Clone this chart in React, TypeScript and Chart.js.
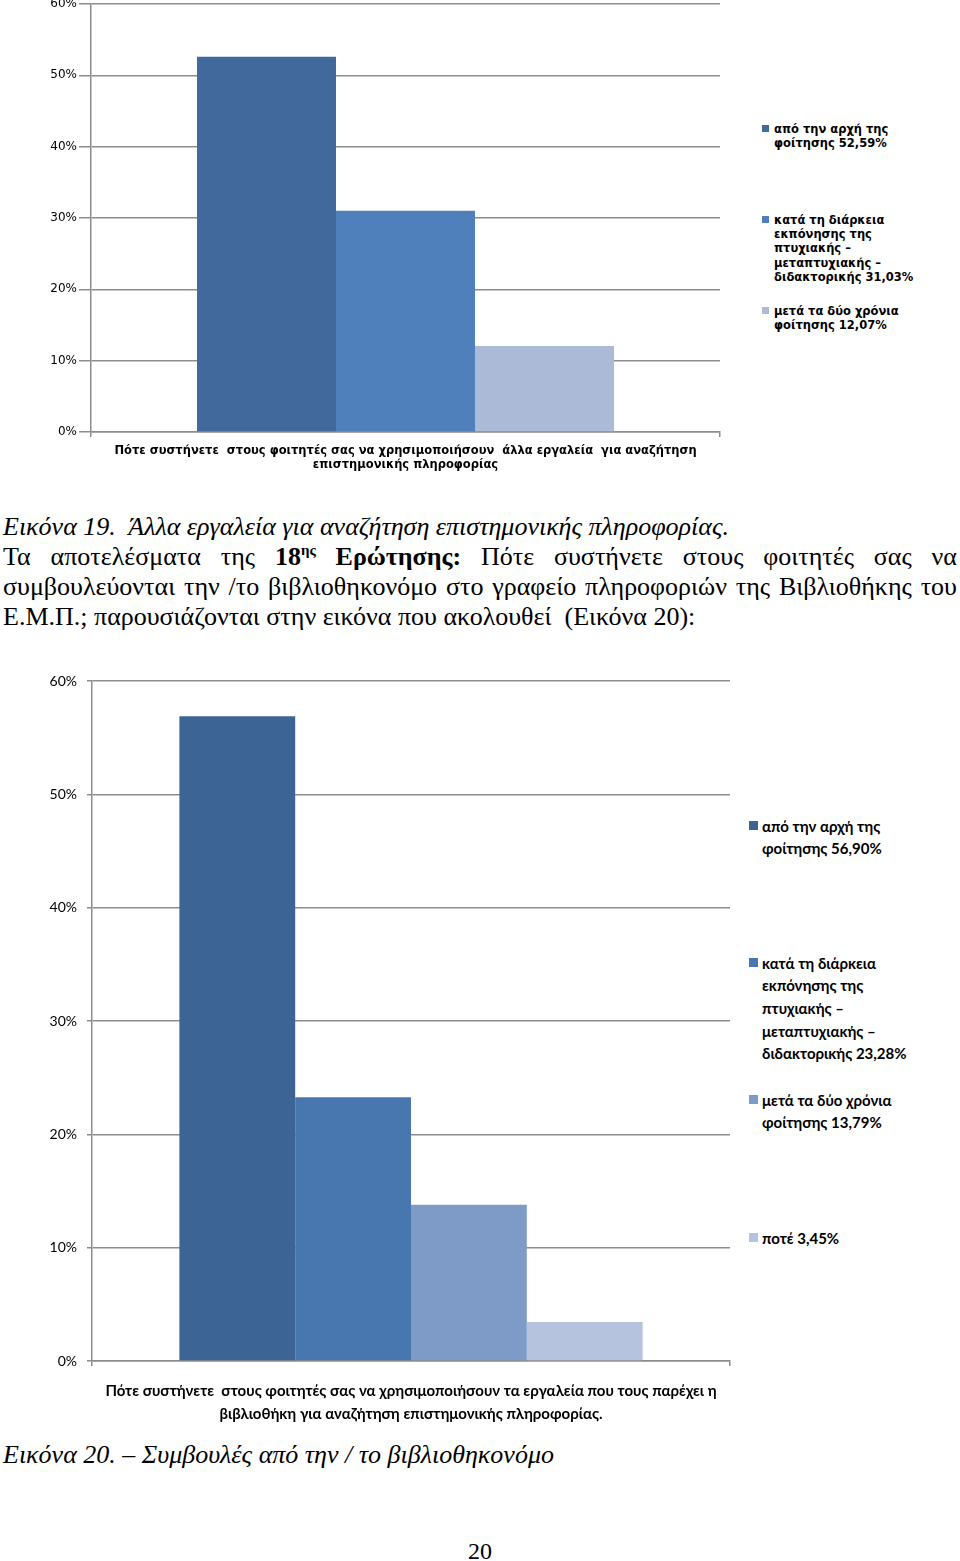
import React, { useEffect, useRef } from "react";
import { Chart, registerables } from "chart.js";

Chart.register(...registerables);

// ---------- Data: chart 1 (Εικόνα 19) ----------
const chart1Category = [
  "Πότε συστήνετε  στους φοιτητές σας να χρησιμοποιήσουν  άλλα εργαλεία  για αναζήτηση",
  "επιστημονικής πληροφορίας",
];
const chart1SeriesLines = [
  ["από την αρχή της", "φοίτησης"],
  ["κατά τη διάρκεια", "εκπόνησης της", "πτυχιακής –", "μεταπτυχιακής –", "διδακτορικής"],
  ["μετά τα δύο χρόνια", "φοίτησης"],
];
const chart1Values = [52.59, 31.03, 12.07];
const chart1Colors = ["#41699c", "#4f80bc", "#abbad7"];

// ---------- Data: chart 2 (Εικόνα 20) ----------
const chart2Category = [
  "Πότε συστήνετε  στους φοιτητές σας να χρησιμοποιήσουν τα εργαλεία που τους παρέχει η",
  "βιβλιοθήκη για αναζήτηση επιστημονικής πληροφορίας.",
];
const chart2SeriesLines = [
  ["από την αρχή της", "φοίτησης"],
  ["κατά τη διάρκεια", "εκπόνησης της", "πτυχιακής –", "μεταπτυχιακής –", "διδακτορικής"],
  ["μετά τα δύο χρόνια", "φοίτησης"],
  ["ποτέ "],
];
const chart2Values = [56.9, 23.28, 13.79, 3.45];
const chart2Colors = ["#3c6494", "#4877b0", "#7e9bc8", "#b5c3de"];

const yTickMax = 60;
const yTickStep = 10;

const fmt = (v: number) => v.toFixed(2).replace(".", ",") + "%";

type BarProps = {
  width: number;
  height: number;
  category: string[];
  seriesLines: string[][];
  values: number[];
  colors: string[];
  categoryPercentage: number;
  padTop: number;
  padRight: number;
  yWidth: number;
  xHeight: number;
  tickFont: any;
  catFont: any;
  xPad: number;
  yTickLen: number;
  yPad: number;
};

function BarChart(p: BarProps) {
  const ref = useRef<HTMLCanvasElement | null>(null);
  useEffect(() => {
    if (!ref.current) return;
    const chart = new Chart(ref.current, {
      type: "bar",
      data: {
        labels: [p.category],
        datasets: p.values.map((v, i) => ({
          label: p.seriesLines[i].join(" "),
          data: [v],
          backgroundColor: p.colors[i],
          borderWidth: 0,
          barPercentage: 1,
          categoryPercentage: p.categoryPercentage,
        })),
      },
      options: {
        animation: false,
        responsive: false,
        maintainAspectRatio: false,
        devicePixelRatio: 1,
        layout: { padding: { top: p.padTop, right: p.padRight, left: 0, bottom: 0 } },
        plugins: { legend: { display: false }, tooltip: { enabled: false } },
        scales: {
          x: {
            grid: { display: true, drawOnChartArea: false, tickLength: 5, color: "#8c8c8c", lineWidth: 1.5, offset: true },
            border: { color: "#8c8c8c", width: 1.5 },
            ticks: { font: p.catFont, color: "#000", padding: p.xPad, maxRotation: 0, autoSkip: false },
            afterFit: (s: any) => {
              s.height = p.xHeight;
              s.paddingLeft = 0;
              s.paddingRight = 0;
            },
          },
          y: {
            min: 0,
            max: yTickMax,
            ticks: {
              stepSize: yTickStep,
              callback: (v: any) => v + "%",
              font: p.tickFont,
              color: "#000",
              padding: p.yPad,
            },
            grid: { color: "#8c8c8c", lineWidth: 1.5, tickLength: p.yTickLen },
            border: { color: "#8c8c8c", width: 1.5 },
            afterFit: (s: any) => {
              s.width = p.yWidth;
              s.paddingTop = 0;
              s.paddingBottom = 0;
            },
          },
        },
      },
    } as any);
    return () => chart.destroy();
  }, []);
  return <canvas ref={ref} width={p.width} height={p.height} style={{ width: p.width, height: p.height, display: "block" }} />;
}

function Legend(props: {
  left: number;
  seriesLines: string[][];
  values: number[];
  colors: string[];
  tops: number[];
  lineHeight: number;
  font: string;
  size: number;
  square: number;
  gap: number;
}) {
  return (
    <>
      {props.seriesLines.map((lines, i) => {
        const all = lines.slice();
        all[all.length - 1] = all[all.length - 1] + " " + fmt(props.values[i]);
        return (
          <div
            key={i}
            style={{
              position: "absolute",
              left: props.left,
              top: props.tops[i] - props.lineHeight / 2,
              fontFamily: props.font,
              fontWeight: "bold",
              fontSize: props.size,
              lineHeight: props.lineHeight + "px",
              color: "#000",
              whiteSpace: "nowrap",
            }}
          >
            <span
              style={{
                position: "absolute",
                left: 0,
                top: (props.lineHeight - props.square) / 2,
                width: props.square,
                height: props.square,
                background: props.colors[i],
              }}
            />
            <div style={{ marginLeft: props.square + props.gap }}>
              {all.map((l, j) => (
                <div key={j}>{l}</div>
              ))}
            </div>
          </div>
        );
      })}
    </>
  );
}

const serif = "'Liberation Serif', 'Times New Roman', serif";

export default function App() {
  const lineStyle = (top: number): React.CSSProperties => ({
    position: "absolute",
    left: 3,
    top: top - 15,
    fontFamily: serif,
    fontSize: 26,
    lineHeight: "30px",
    color: "#000",
    whiteSpace: "nowrap",
  });
  return (
    <div style={{ position: "absolute", left: 0, top: 0, width: 960, height: 1561, background: "#fff", overflow: "hidden" }}>
      <div style={{ position: "absolute", left: 0, top: 0 }}>
        <BarChart
          width={740}
          height={480}
          category={chart1Category}
          seriesLines={chart1SeriesLines}
          values={chart1Values}
          colors={chart1Colors}
          categoryPercentage={0.663}
          padTop={4}
          padRight={20}
          yWidth={91}
          xHeight={48}
          tickFont={{ family: "'DejaVu Sans', sans-serif", size: 12 }}
          catFont={{ family: "'DejaVu Sans', sans-serif", size: 11.5, weight: "bold", lineHeight: 1.22 }}
          xPad={7}
          yTickLen={12}
          yPad={2}
        />
      </div>
      <Legend
        left={762}
        seriesLines={chart1SeriesLines}
        values={chart1Values}
        colors={chart1Colors}
        tops={[129, 220, 311]}
        lineHeight={14.2}
        font="'DejaVu Sans', sans-serif"
        size={11.5}
        square={7}
        gap={5}
      />

      <div style={{ ...lineStyle(527), fontStyle: "italic" }}>Εικόνα 19.&nbsp; Άλλα εργαλεία για αναζήτηση επιστημονικής πληροφορίας.</div>
      <div style={{ ...lineStyle(557), width: 954, textAlign: "justify", textAlignLast: "justify" as any, whiteSpace: "normal" }}>
        Τα αποτελέσματα της <b>18<sup style={{ fontSize: 15, lineHeight: 0 }}>ης</sup> Ερώτησης:</b> Πότε συστήνετε στους φοιτητές σας να
      </div>
      <div style={{ ...lineStyle(587), width: 954, textAlign: "justify", textAlignLast: "justify" as any, whiteSpace: "normal" }}>
        συμβουλεύονται την /το βιβλιοθηκονόμο στο γραφείο πληροφοριών της Βιβλιοθήκης του
      </div>
      <div style={lineStyle(617)}>Ε.Μ.Π.; παρουσιάζονται στην εικόνα που ακολουθεί&nbsp; (Εικόνα 20):</div>

      <div style={{ position: "absolute", left: 0, top: 660 }}>
        <BarChart
          width={740}
          height={780}
          category={chart2Category}
          seriesLines={chart2SeriesLines}
          values={chart2Values}
          colors={chart2Colors}
          categoryPercentage={0.726}
          padTop={21}
          padRight={10}
          yWidth={92}
          xHeight={79}
          tickFont={{ family: "Lato, sans-serif", size: 14 }}
          catFont={{ family: "Lato, sans-serif", size: 15, weight: "bold", lineHeight: 1.53 }}
          xPad={14}
          yTickLen={5}
          yPad={10}
        />
      </div>
      <Legend
        left={749}
        seriesLines={chart2SeriesLines}
        values={chart2Values}
        colors={chart2Colors}
        tops={[826, 963, 1100, 1238]}
        lineHeight={22.7}
        font="Lato, sans-serif"
        size={15}
        square={9}
        gap={4}
      />

      <div style={{ ...lineStyle(1455), fontStyle: "italic" }}>Εικόνα 20. – Συμβουλές από την / το βιβλιοθηκονόμο</div>
      <div style={{ position: "absolute", left: 0, width: 960, top: 1536, textAlign: "center", fontFamily: serif, fontSize: 24, lineHeight: "30px" }}>20</div>
    </div>
  );
}
